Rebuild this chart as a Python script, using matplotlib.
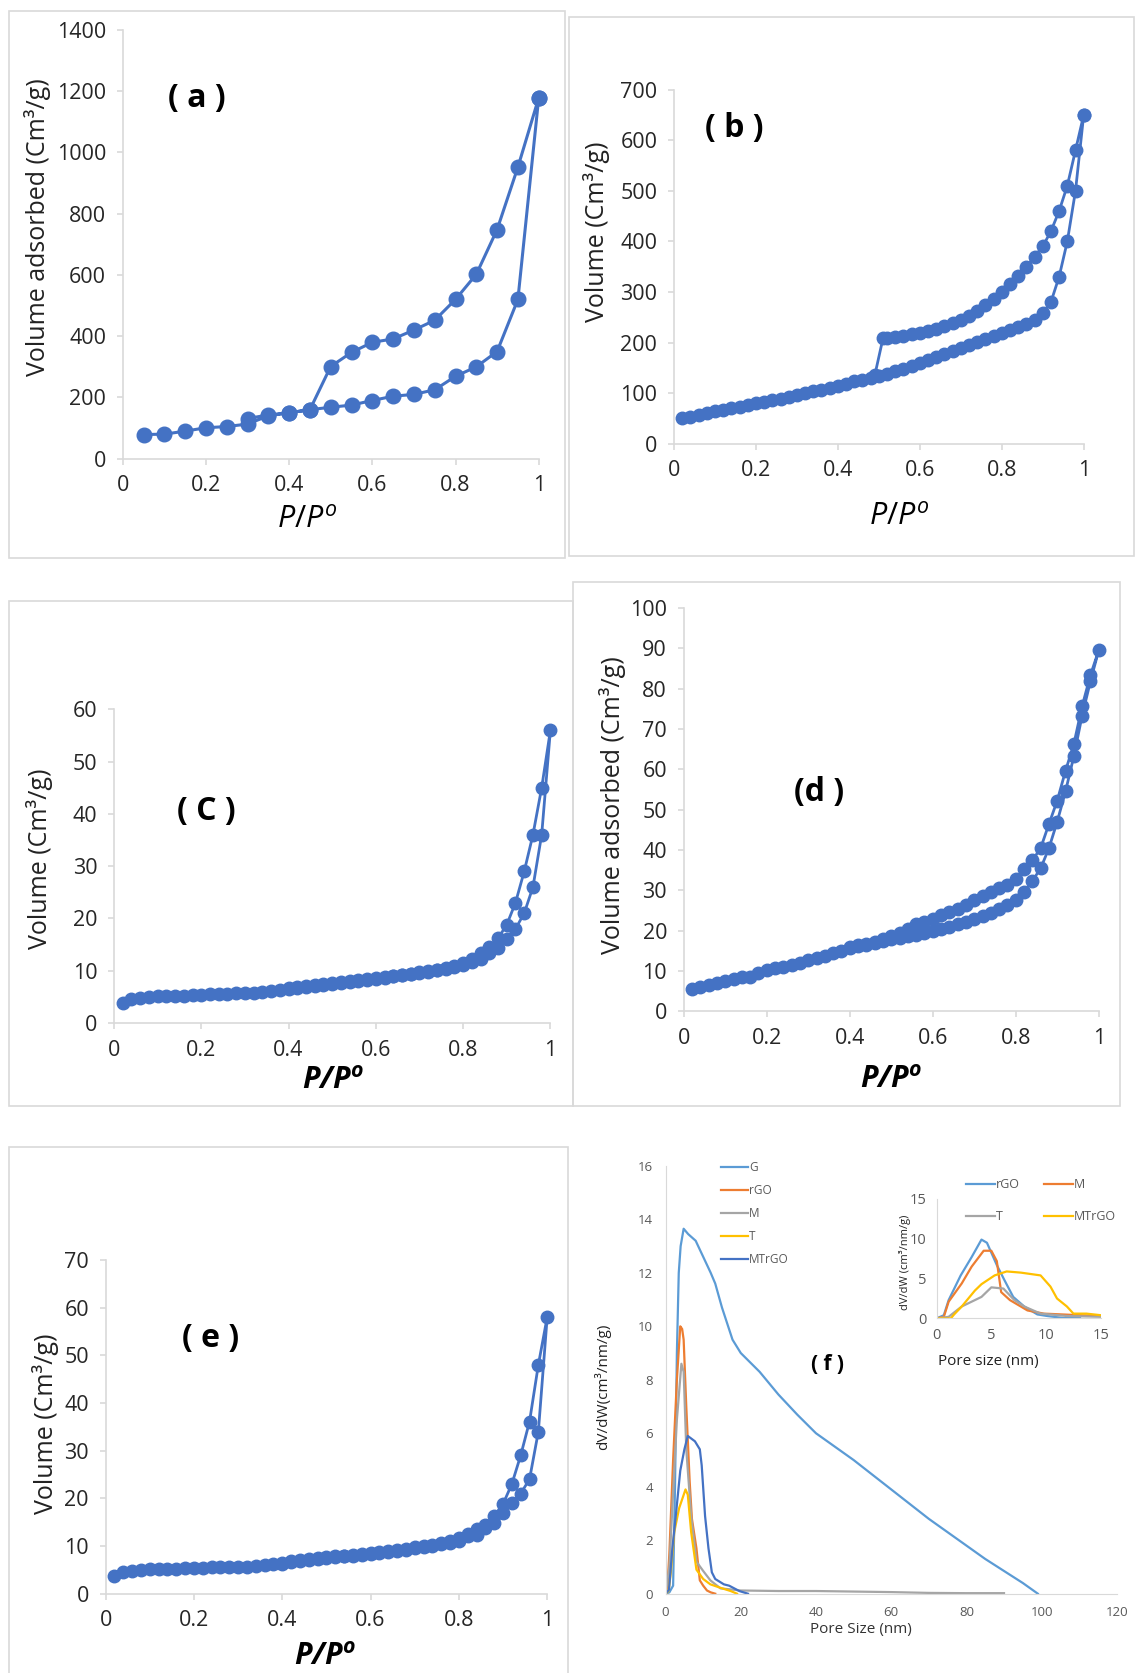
import matplotlib.pyplot as plt
import numpy as np
from matplotlib.patches import Rectangle

plt.rcParams['font.family'] = ['Open Sans', 'DejaVu Sans']
plt.rcParams['mathtext.fontset'] = 'custom'
plt.rcParams['mathtext.rm'] = 'Open Sans'
plt.rcParams['mathtext.it'] = 'Open Sans:italic'
plt.rcParams['mathtext.bf'] = 'Open Sans:bold'
plt.rcParams['mathtext.bfit'] = 'Open Sans:italic:bold'

W, H = 1135, 1673

# ---- isotherm data ----
# (a)
a_ads_x = [0.05, 0.1, 0.15, 0.2, 0.25, 0.3, 0.35, 0.4, 0.45, 0.5, 0.55, 0.6, 0.65, 0.7, 0.75, 0.8, 0.85, 0.9, 0.95, 1.0]
a_ads_y = [79, 80, 90, 101, 105, 113, 140, 150, 160, 168, 175, 190, 204, 210, 225, 269, 300, 350, 520, 1178]
a_des_x = [1.0, 0.95, 0.9, 0.85, 0.8, 0.75, 0.7, 0.65, 0.6, 0.55, 0.5, 0.45, 0.4, 0.35, 0.3]
a_des_y = [1178, 952, 748, 602, 520, 452, 420, 391, 380, 347, 301, 160, 150, 143, 131]

# common relative pressure grid used for b-e
p_ads = [0.02, 0.04, 0.06, 0.08, 0.10, 0.12, 0.14, 0.16, 0.18, 0.20,
         0.22, 0.24, 0.26, 0.28, 0.30, 0.32, 0.34, 0.36, 0.38, 0.40,
         0.42, 0.44, 0.46, 0.48, 0.50, 0.52, 0.54, 0.56, 0.58, 0.60,
         0.62, 0.64, 0.66, 0.68, 0.70, 0.72, 0.74, 0.76, 0.78, 0.80,
         0.82, 0.84, 0.86, 0.88, 0.90, 0.92, 0.94, 0.96, 0.98, 1.00]
p_des = [1.00, 0.98, 0.96, 0.94, 0.92, 0.90, 0.88, 0.86, 0.84, 0.82, 0.80,
         0.78, 0.76, 0.74, 0.72, 0.70, 0.68, 0.66, 0.64, 0.62, 0.60,
         0.58, 0.56, 0.54, 0.52, 0.50, 0.48, 0.46, 0.44, 0.42, 0.40]

# (b)
b_ads_y = [50, 53, 56, 60, 64, 67, 70, 73, 77, 80,
           83, 86, 89, 92, 97, 100, 104, 107, 111, 115,
           119, 123, 125, 130, 133, 137, 143, 148, 154, 160,
           166, 172, 178, 184, 190, 196, 202, 207, 212, 218,
           224, 230, 236, 245, 258, 280, 330, 400, 500, 650]
b_des_x = [1.00, 0.98, 0.96, 0.94, 0.92, 0.90, 0.88, 0.86, 0.84, 0.82, 0.80,
           0.78, 0.76, 0.74, 0.72, 0.70, 0.68, 0.66, 0.64, 0.62, 0.60,
           0.58, 0.56, 0.54, 0.52, 0.51, 0.49]
b_des_y = [650, 580, 510, 460, 420, 390, 370, 350, 332, 316, 300,
           287, 275, 262, 253, 245, 238, 232, 227, 223, 219,
           216, 213, 211, 209, 208, 135]

# (c)
c_ads_y = [3.8, 4.5, 4.8, 5.0, 5.1, 5.1, 5.2, 5.2, 5.3, 5.4,
           5.5, 5.5, 5.6, 5.7, 5.8, 5.8, 5.9, 6.1, 6.3, 6.5,
           6.7, 6.9, 7.0, 7.3, 7.5, 7.7, 7.9, 8.1, 8.3, 8.5,
           8.7, 8.9, 9.1, 9.3, 9.6, 9.8, 10.1, 10.4, 10.7, 11.0,
           11.6, 12.2, 13.3, 14.3, 16.0, 18.0, 21.0, 26.0, 36.0, 56.0]
c_des_y = [56.0, 45.0, 36.0, 29.0, 23.0, 18.8, 16.2, 14.6, 13.4, 12.3, 11.5,
           10.9, 10.5, 10.2, 9.9, 9.7, 9.4, 9.2, 9.0, 8.8, 8.6,
           8.4, 8.2, 8.0, 7.8, 7.6, 7.4, 7.2, 7.0, 6.8, 6.6]

# (d)
d_ads_y = [5.4, 5.9, 6.4, 6.9, 7.5, 8.0, 8.5, 8.6, 9.5, 10.1,
           10.6, 11.0, 11.5, 12.0, 12.6, 13.2, 13.8, 14.4, 15.0, 15.6,
           16.1, 16.5, 16.9, 17.4, 17.8, 18.2, 18.6, 19.0, 19.5, 19.9,
           20.4, 21.0, 21.6, 22.2, 22.9, 23.6, 24.4, 25.3, 26.4, 27.6,
           29.5, 32.3, 35.4, 40.4, 47.0, 54.5, 63.2, 73.3, 81.8, 89.5]
d_des_y = [89.5, 83.3, 75.6, 66.2, 59.6, 52.2, 46.4, 40.4, 37.4, 35.3, 32.7,
           31.4, 30.6, 29.5, 28.6, 27.6, 26.3, 25.4, 24.6, 23.9, 22.9,
           22.0, 21.6, 20.3, 19.5, 18.6, 17.8, 17.2, 16.7, 16.3, 15.8]

# (e)
e_ads_y = [3.8, 4.5, 4.8, 5.0, 5.1, 5.1, 5.2, 5.2, 5.3, 5.4,
           5.4, 5.5, 5.5, 5.6, 5.6, 5.7, 5.8, 6.0, 6.2, 6.3,
           6.6, 6.8, 7.0, 7.2, 7.5, 7.7, 7.9, 8.0, 8.2, 8.4,
           8.6, 8.8, 9.0, 9.2, 9.5, 9.7, 9.9, 10.4, 10.7, 11.1,
           12.0, 12.4, 13.8, 14.9, 17.0, 19.0, 21.0, 24.0, 34.0, 58.0]
e_des_y = [58.0, 48.0, 36.1, 29.0, 23.0, 18.8, 16.3, 14.5, 13.5, 12.5, 11.7,
           11.0, 10.6, 10.2, 9.9, 9.7, 9.4, 9.2, 9.0, 8.8, 8.6,
           8.4, 8.2, 8.0, 7.8, 7.6, 7.4, 7.2, 7.0, 6.8, 6.5]

# ---- pore size distributions (f) ----
G_x = [0, 1, 2, 2.5, 3, 3.5, 4, 4.8, 6, 8, 10, 12, 13.2, 15, 17.8, 20, 25, 30, 35, 40,
       45, 50, 55, 60, 65, 70, 75, 80, 85, 90, 95, 99]
G_y = [0, 0.05, 0.3, 4, 9, 12, 13, 13.65, 13.45, 13.2, 12.6, 12.0, 11.6, 10.7, 9.5, 9.0, 8.3, 7.45, 6.7, 6.0,
       5.5, 5.0, 4.45, 3.9, 3.35, 2.8, 2.3, 1.8, 1.3, 0.85, 0.4, 0.0]
rGO_x = [0, 0.5, 1, 2, 3, 3.9, 4.4, 4.8, 5.5, 6.4, 7, 8.2, 9.1, 10, 11, 12, 13.2]
rGO_y = [0, 0.3, 1.5, 5.0, 8.0, 10.0, 9.9, 9.5, 7.0, 4.2, 2.8, 1.7, 0.5, 0.3, 0.12, 0.05, 0]
M_x = [0, 1, 2, 3, 4.2, 4.8, 5.5, 6.8, 8.2, 10, 11.9, 14.6, 20, 30, 40, 50, 60, 70, 80, 90]
M_y = [0, 1.0, 3.8, 6.5, 8.6, 8.3, 5.4, 2.9, 1.2, 0.85, 0.5, 0.2, 0.12, 0.1, 0.1, 0.08, 0.06, 0.03, 0.02, 0.02]
T_x = [0, 0.8, 1.4, 2.3, 3.6, 5.3, 5.9, 6.8, 8.2, 10, 11.9, 14.6, 17.3, 19]
T_y = [0, 0.1, 0.8, 2.3, 3.2, 3.9, 3.7, 2.3, 0.9, 0.55, 0.35, 0.22, 0.1, 0]
MT_x = [0, 0.9, 1.8, 2.7, 3.9, 5.0, 5.9, 7.8, 9.1, 9.6, 10.5, 11.4, 12.3, 13.2, 15.5, 16.9, 19.6, 21.9]
MT_y = [0, 0.15, 1.7, 2.9, 4.6, 5.4, 5.9, 5.7, 5.4, 4.8, 2.9, 1.7, 0.8, 0.55, 0.35, 0.3, 0.1, 0]

# inset (0-15 nm)
in_rGO_x = [0, 0.66, 1.1, 2.2, 3.2, 4.1, 4.6, 5.5, 6.2, 7.0, 8.0, 9.2, 10.1, 11.6, 13.1]
in_rGO_y = [0, 0.4, 2.3, 5.4, 7.7, 9.9, 9.5, 6.7, 4.8, 2.7, 1.5, 0.5, 0.3, 0.05, 0.05]
in_M_x = [0, 0.66, 1.1, 2.3, 3.2, 4.3, 5.0, 5.5, 5.9, 6.7, 8.3, 9.8, 13.1, 15]
in_M_y = [0, 0.2, 2.1, 4.4, 6.5, 8.5, 8.5, 7.2, 3.3, 2.3, 1.0, 0.6, 0.4, 0.3]
in_T_x = [0, 1.1, 2.3, 4.1, 5.0, 6.1, 7.1, 8.0, 9.5, 11.9, 15]
in_T_y = [0, 0.2, 1.5, 2.7, 3.9, 3.75, 2.3, 1.5, 0.6, 0.3, 0.2]
in_MT_x = [0, 1.3, 1.6, 2.3, 3.5, 4.1, 5.3, 6.4, 7.7, 9.5, 10.4, 11, 11.9, 12.5, 13.7, 15]
in_MT_y = [0, 0, 0.5, 1.5, 3.5, 4.3, 5.4, 5.9, 5.75, 5.4, 4.0, 2.5, 1.5, 0.6, 0.6, 0.4]

BLUE = '#4472C4'
LBLUE = '#5B9BD5'
ORANGE = '#ED7D31'
GRAY = '#A5A5A5'
GOLD = '#FFC000'
AXC = '#d9d9d9'


def rect(x0, yt, x1, yb):
    return [x0 / W, 1 - yb / H, (x1 - x0) / W, (yb - yt) / H]


def frame(fig, x0, yt, x1, yb):
    fig.add_artist(Rectangle((x0 / W, 1 - yb / H), (x1 - x0) / W, (yb - yt) / H,
                             transform=fig.transFigure, fill=False, ec=AXC, lw=1.2))


def iso_axes(fig, r, ymax, ystep):
    ax = fig.add_axes(rect(*r))
    ax.set_xlim(0, 1)
    ax.set_ylim(0, ymax)
    ax.set_xticks([0, 0.2, 0.4, 0.6, 0.8, 1.0])
    ax.set_xticklabels(['0', '0.2', '0.4', '0.6', '0.8', '1'])
    ax.set_yticks(np.arange(0, ymax + 1, ystep))
    for s in ['top', 'right']:
        ax.spines[s].set_visible(False)
    for s in ['left', 'bottom']:
        ax.spines[s].set_color(AXC)
        ax.spines[s].set_linewidth(1.2)
    ax.tick_params(colors=AXC, labelcolor='#262626', labelsize=15.5, length=4, width=1.2, pad=8)
    ax.patch.set_alpha(0)
    return ax


def ylab(x, y, s):
    fig.text(x / W, 1 - y / H, s, fontsize=18, rotation=90, ha='center', va='center', color='#222222')


def panel(x, y, s):
    fig.text(x / W, 1 - y / H, s, fontsize=23, fontweight='bold', ha='center', va='center')


def pp(x, y, bold=False):
    s = r'$\mathbfit{P/P^{o}}$' if bold else r'$\mathit{P/P^{o}}$'
    fig.text(x / W, 1 - y / H, s, fontsize=22, ha='center', va='center')


fig = plt.figure(figsize=(W / 100, H / 100), dpi=100)

# frames around each chart
frame(fig, 8.5, 10.7, 565, 558)
frame(fig, 568.5, 17, 1134, 555.5)
frame(fig, 8.5, 600.5, 573, 1106)
frame(fig, 572.8, 581.5, 1120, 1105.5)
frame(fig, 8.5, 1146.7, 567.5, 1690)

mk = dict(color=BLUE, marker='o', ms=9, lw=2, clip_on=False)

# (a)
ax = iso_axes(fig, (122.7, 29.9, 538.7, 458.7), 1400, 200)
ax.plot(a_ads_x + a_des_x, a_ads_y + a_des_y, color=BLUE, marker='o', ms=10.5, lw=2.2, clip_on=False)
panel(197, 98, '( a )')
ylab(38, 227, 'Volume adsorbed (Cm³/g)')
pp(307, 520)

# (b)
ax = iso_axes(fig, (674, 89.6, 1083.7, 443.7), 700, 100)
ax.plot(p_ads + b_des_x, b_ads_y + b_des_y, **mk)
panel(734, 128, '( b )')
ylab(597, 231.5, 'Volume (Cm³/g)')
pp(899, 517)

# (c)
ax = iso_axes(fig, (114, 709.3, 550.4, 1023), 60, 10)
ax.plot(p_ads + p_des[1:], c_ads_y + c_des_y[1:], **mk)
panel(206, 812, '( C )')
ylab(39.5, 858.7, 'Volume (Cm³/g)')
pp(332.8, 1080.6, bold=True)

# (d)
ax = iso_axes(fig, (683.7, 608, 1098.7, 1011.2), 100, 10)
ax.plot(p_ads + p_des[1:], d_ads_y + d_des_y[1:], **mk)
panel(819, 792.5, '(d )')
ylab(612, 805, 'Volume adsorbed (Cm³/g)')
pp(890.7, 1079.5, bold=True)

# (e)
ax = iso_axes(fig, (105.6, 1259.8, 547.2, 1593.7), 70, 10)
ax.plot(p_ads + p_des[1:], e_ads_y + e_des_y[1:], **mk)
panel(211, 1339, '( e )')
ylab(45.9, 1424, 'Volume (Cm³/g)')
pp(325, 1656.6, bold=True)

# (f) main
ax = fig.add_axes(rect(665.6, 1165.9, 1116.8, 1593.7))
ax.plot(G_x, G_y, color=LBLUE, lw=1.6, label='G')
ax.plot(rGO_x, rGO_y, color=ORANGE, lw=1.6, label='rGO')
ax.plot(M_x, M_y, color=GRAY, lw=1.6, label='M')
ax.plot(T_x, T_y, color=GOLD, lw=1.6, label='T')
ax.plot(MT_x, MT_y, color=BLUE, lw=1.6, label='MTrGO')
ax.set_xlim(0, 120)
ax.set_ylim(0, 16)
ax.set_xticks(np.arange(0, 121, 20))
ax.set_yticks(np.arange(0, 17, 2))
for s in ['top', 'right']:
    ax.spines[s].set_visible(False)
for s in ['left', 'bottom']:
    ax.spines[s].set_color(AXC)
ax.tick_params(colors=AXC, labelcolor='#595959', labelsize=9.5, length=0, pad=9)
ax.patch.set_alpha(0)
ax.legend(loc='upper left', bbox_to_anchor=(715 / W, 1 - 1155 / H), bbox_transform=fig.transFigure,
          frameon=False, fontsize=8.5, labelcolor='#595959', handlelength=2.3, handletextpad=0.1,
          labelspacing=0.85, borderpad=0)
fig.text(827.7 / W, 1 - 1364.3 / H, '( f )', fontsize=15, fontweight='bold', ha='center', va='center')
fig.text(860.8 / W, 1 - 1630 / H, 'Pore Size (nm)', fontsize=11, ha='center', va='center', color='#333333')
fig.text(602.7 / W, 1 - 1386.7 / H, 'dV/dW(cm³/nm/g)', fontsize=11, rotation=90, ha='center', va='center', color='#222222')

# inset
ax2 = fig.add_axes(rect(936.6, 1199, 1100.8, 1318.4))
l1, = ax2.plot(in_rGO_x, in_rGO_y, color=LBLUE, lw=1.6, label='rGO')
l2, = ax2.plot(in_M_x, in_M_y, color=ORANGE, lw=1.6, label='M')
l3, = ax2.plot(in_T_x, in_T_y, color=GRAY, lw=1.6, label='T')
l4, = ax2.plot(in_MT_x, in_MT_y, color=GOLD, lw=1.6, label='MTrGO')
ax2.set_xlim(0, 15)
ax2.set_ylim(0, 15)
ax2.set_xticks([0, 5, 10, 15])
ax2.set_yticks([0, 5, 10, 15])
for s in ['top', 'right']:
    ax2.spines[s].set_visible(False)
for s in ['left', 'bottom']:
    ax2.spines[s].set_color(AXC)
ax2.tick_params(colors=AXC, labelcolor='#595959', labelsize=10.5, length=0, pad=7)
ax2.patch.set_alpha(0)
ax2.legend(handles=[l1, l3, l2, l4], ncol=2, loc='upper left', bbox_to_anchor=(960 / W, 1 - 1172 / H),
           bbox_transform=fig.transFigure, frameon=False, fontsize=9, labelcolor='#595959',
           handlelength=2.3, handletextpad=0.1, labelspacing=1.5, columnspacing=1.9, borderpad=0)
fig.text(988.8 / W, 1 - 1362 / H, 'Pore size (nm)', fontsize=11, ha='center', va='center', color='#222222')
fig.text(905 / W, 1 - 1262 / H, 'dV/dW (cm³/nm/g)', fontsize=8, rotation=90, ha='center', va='center', color='#222222')

fig.savefig('out.png', dpi=100)
